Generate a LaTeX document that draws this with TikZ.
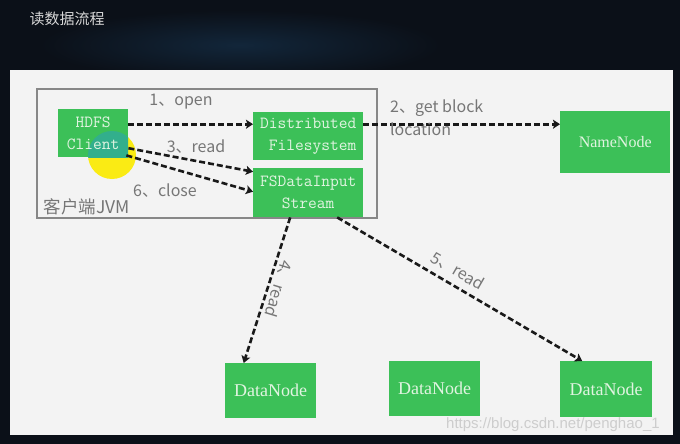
\documentclass[tikz,border=0pt]{standalone}
\usepackage{fontspec}
\newfontfamily\cjk{Noto Sans CJK SC}
\newfontfamily\seriff{Liberation Serif}
\newfontfamily\wmfont{Liberation Sans}
\usetikzlibrary{arrows.meta,calc}
\definecolor{bgdark}{RGB}{11,16,24}
\definecolor{bgglow}{RGB}{18,38,58}
\definecolor{panelfill}{RGB}{243,243,243}
\definecolor{boxgreen}{RGB}{60,192,88}
\definecolor{boxtext}{RGB}{225,244,225}
\definecolor{lblgray}{RGB}{118,118,118}
\definecolor{jvmgray}{RGB}{135,135,135}
\definecolor{titlegray}{RGB}{215,215,215}
\definecolor{wmgray}{RGB}{205,205,205}
\definecolor{hlyellow}{RGB}{250,235,20}
\definecolor{hlteal}{RGB}{50,175,140}
\begin{document}
\begin{tikzpicture}[x=1pt,y=-1pt,
  gbox/.style={draw=none, fill=boxgreen, text=boxtext, inner sep=0pt, align=center, anchor=north west},
  monotext/.style={font=\ttfamily\fontsize{17}{22}\selectfont},
  seriftext/.style={font=\seriff\fontsize{16}{18}\selectfont},
  flow/.style={draw=black!90, line width=2.6pt, dash pattern=on 6pt off 3pt, -{Stealth[length=7pt,width=9pt,inset=1.5pt]}},
  lbl/.style={text=lblgray, font=\cjk\fontsize{16}{23}\selectfont, inner sep=0pt},
]
\useasboundingbox (0,0) rectangle (680,444);
% background
\fill[bgdark] (0,0) rectangle (680,444);
\shade[inner color=bgglow, outer color=bgdark] (240,45) ellipse (200pt and 35pt);
\node[text=titlegray, font=\cjk\fontsize{15}{17}\selectfont, inner sep=0pt] (title) at (67,19) {读数据流程};
% panel
\fill[panelfill] (10,70) rectangle (673,435);
% client JVM frame
\draw[jvmgray, line width=1.4pt] (37,89) rectangle (377,218);
\node[lbl, font=\cjk\fontsize{17.5}{20}\selectfont] (jvm) at (87,207) {客户端JVM};
% highlight behind client
\fill[hlyellow] (112,155) circle (24pt);
% nodes
\node[gbox, monotext, minimum width=70pt, minimum height=48pt] (hdfs) at (58,109) {};
\begin{scope}
\clip (58,109) rectangle (128,157);
\fill[hlteal] (112,155) circle (24pt);
\end{scope}
\node[text=boxtext, monotext, align=center, inner sep=0pt] (hdfstext) at (hdfs.center) {HDFS\\Client};
\node[gbox, monotext, minimum width=110pt, minimum height=48pt] (dfs) at (253,112) {Distributed\\\phantom{x}Filesystem};
\node[gbox, monotext, minimum width=110pt, minimum height=49pt] (fs) at (253,168) {FSDataInput\\Stream};
\node[gbox, seriftext, minimum width=110pt, minimum height=62pt] (nn) at (560,111) {NameNode};
\node[gbox, seriftext, font=\seriff\fontsize{18}{20}\selectfont, minimum width=91pt, minimum height=55pt] (dn1) at (225,363) {DataNode};
\node[gbox, seriftext, font=\seriff\fontsize{18}{20}\selectfont, minimum width=91pt, minimum height=55pt] (dn2) at (389,361) {DataNode};
\node[gbox, seriftext, font=\seriff\fontsize{18}{20}\selectfont, minimum width=92pt, minimum height=56pt] (dn3) at (560,361) {DataNode};
% connectors
\draw[flow] ([yshift=9pt]hdfs.east) -- ([yshift=12pt]dfs.west);
\draw[flow] ([yshift=12pt]dfs.east) -- ([yshift=18pt]nn.west);
\draw[flow] ([yshift=-15pt]hdfs.east) -- ([yshift=21pt]fs.west);
\draw[flow] ([xshift=-2pt,yshift=2pt]hdfs.south east) -- ([yshift=1pt]fs.west);
\draw[flow] ([xshift=-18pt]fs.south) -- ([xshift=-27pt]dn1.north);
\draw[flow] ([xshift=29pt]fs.south) -- ([xshift=-24pt]dn3.north);
% labels
\node[lbl] (l1) at (181,102) {1、open};
\node[lbl, anchor=north west, align=left] (l2) at (390,100) {2、get block\\location};
\node[lbl] (l3) at (196,147) {3、read};
\node[lbl] (l6) at (165,191) {6、close};
\node[lbl, rotate=-107] (l4) at (279,289) {4、read};
\node[lbl, rotate=-30] (l5) at (458,271) {5、read};
% watermark
\node[text=wmgray, font=\wmfont\fontsize{15}{17}\selectfont, anchor=west, inner sep=0pt] (wm) at (446,425) {https://blog.csdn.net/penghao\_1};
\end{tikzpicture}
\end{document}
